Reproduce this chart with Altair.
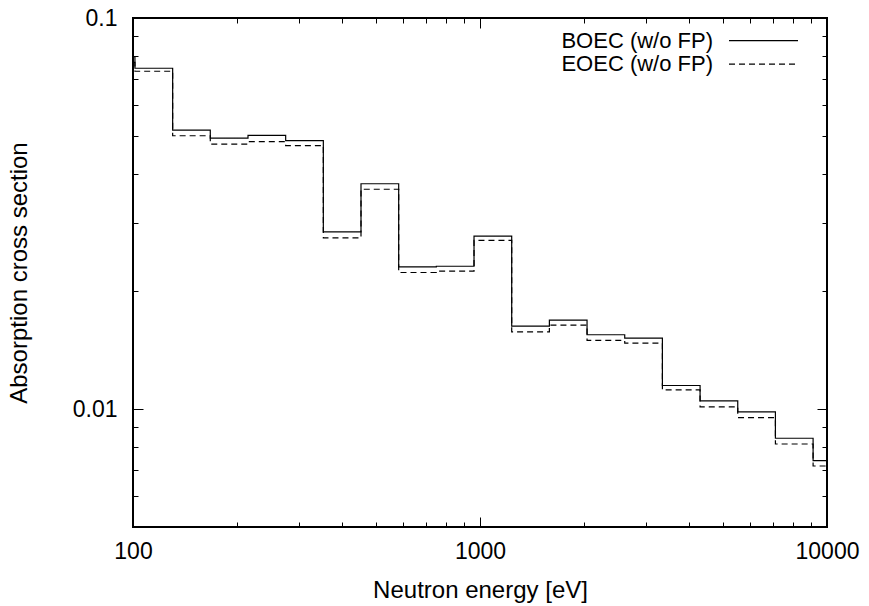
import altair as alt
import pandas as pd

# Group boundaries (eV) visible on the plot, clipped to the 100-10000 eV axis range
edges = [100, 101.3, 130.1, 167.0, 214.5, 275.4, 353.6, 454.0, 583.0, 748.5, 961.1,
         1234.1, 1584.6, 2034.7, 2612.6, 3354.6, 4307.4, 5530.8, 7101.7, 9118.8, 10000]
# Group-wise absorption cross sections (one value per group)
boec = [0.0796, 0.0744, 0.0517, 0.0493, 0.0501, 0.0486, 0.0284, 0.0377, 0.0231, 0.0232,
        0.0277, 0.0163, 0.0169, 0.0155, 0.0152, 0.0115, 0.0105, 0.00984, 0.00843, 0.00739]
eoec = [0.0770, 0.0731, 0.0500, 0.0476, 0.0483, 0.0472, 0.0274, 0.0365, 0.02236, 0.02254,
        0.0270, 0.01577, 0.0164, 0.0150, 0.01475, 0.0112, 0.01014, 0.00952, 0.00815, 0.00716]
series_names = ["BOEC (w/o FP)", "EOEC (w/o FP)"]

x_major = [100, 1000, 10000]
x_minor = [200, 300, 400, 500, 600, 700, 800, 900,
           2000, 3000, 4000, 5000, 6000, 7000, 8000, 9000]
y_major = [0.01, 0.1]
y_minor = [0.006, 0.007, 0.008, 0.009, 0.02, 0.03, 0.04, 0.05, 0.06, 0.07, 0.08, 0.09]

rows = []
for name, vals in zip(series_names, [boec, eoec]):
    for e, v in zip(edges, vals + [vals[-1]]):
        rows.append({"series": name, "energy": e, "xs": v})
df = pd.DataFrame(rows)

W, H = 694, 509
FONT = "Liberation Sans"
LFS = 23   # tick labels
GFS = 22   # legend
TFS = 24   # axis titles
xscale = alt.Scale(type="log", domain=[100, 10000], nice=False)
yscale = alt.Scale(type="log", domain=[0.005, 0.1], nice=False)

common = dict(domain=False, grid=False, tickColor="black", tickWidth=1,
              labelFont=FONT, labelFontSize=LFS, labelColor="black",
              labelFlush=False, labelOverlap=False,
              titleFont=FONT, titleFontSize=TFS, titleFontWeight="normal", titleColor="black")


def carrier(xaxis, yaxis):
    return alt.Chart(df).mark_point(opacity=0).encode(
        x=alt.X("energy:Q", scale=xscale, axis=xaxis),
        y=alt.Y("xs:Q", scale=yscale, axis=yaxis),
    )


ax_bottom_major = alt.Axis(orient="bottom", values=x_major, format="d", tickSize=10, offset=-10,
                           labelPadding=13, title="Neutron energy [eV]",
                           titleBaseline="alphabetic", titleY=80, **common)
ax_bottom_minor = alt.Axis(orient="bottom", values=x_minor, tickSize=5, offset=-5,
                           labels=False, title=None, **common)
ax_top_major = alt.Axis(orient="top", values=x_major, tickSize=10, offset=-10,
                        labels=False, title=None, **common)
ax_top_minor = alt.Axis(orient="top", values=x_minor, tickSize=5, offset=-5,
                        labels=False, title=None, **common)

ax_left_major = alt.Axis(orient="left", values=y_major, format="~g", tickSize=10, offset=-10,
                         labelPadding=16, title="Absorption cross section",
                         titleBaseline="alphabetic", titleX=-117, titleY=H / 2, **common)
ax_left_minor = alt.Axis(orient="left", values=y_minor, tickSize=5, offset=-5,
                         labels=False, title=None, **common)
ax_right_major = alt.Axis(orient="right", values=y_major, tickSize=10, offset=-10,
                          labels=False, title=None, **common)
ax_right_minor = alt.Axis(orient="right", values=y_minor, tickSize=5, offset=-5,
                          labels=False, title=None, **common)

steps = alt.Chart(df).mark_line(interpolate="step-after", color="black", strokeWidth=1.2).encode(
    x=alt.X("energy:Q", scale=xscale, axis=None),
    y=alt.Y("xs:Q", scale=yscale, axis=None),
    strokeDash=alt.StrokeDash("series:N", scale=alt.Scale(domain=series_names, range=[[1, 0], [6, 4]]),
                              legend=None),
    detail="series:N",
)

leg1_text = alt.Chart(pd.DataFrame({"series": [series_names[0]]})).mark_text(
    align="right", baseline="middle", font=FONT, fontSize=GFS, color="black"
).encode(text="series:N", x=alt.value(580), y=alt.value(22.7))
leg2_text = alt.Chart(pd.DataFrame({"series": [series_names[1]]})).mark_text(
    align="right", baseline="middle", font=FONT, fontSize=GFS, color="black"
).encode(text="series:N", x=alt.value(580), y=alt.value(46.2))
leg1_line = alt.Chart(pd.DataFrame({"series": [series_names[0]]})).mark_rule(
    color="black", strokeWidth=1.2
).encode(x=alt.value(596), x2=alt.value(665), y=alt.value(22.7))
leg2_line = alt.Chart(pd.DataFrame({"series": [series_names[1]]})).mark_rule(
    color="black", strokeWidth=1.2, strokeDash=[6, 4]
).encode(x=alt.value(596), x2=alt.value(665), y=alt.value(46.2))

chart = alt.layer(
    carrier(ax_bottom_major, ax_left_major),
    carrier(ax_bottom_minor, ax_left_minor),
    carrier(ax_top_major, ax_right_major),
    carrier(ax_top_minor, ax_right_minor),
    steps,
    leg1_text, leg1_line, leg2_text, leg2_line,
).resolve_axis(
    x="independent", y="independent"
).properties(
    width=W, height=H,
    padding={"left": 133, "top": 18, "right": 42, "bottom": 79},
    autosize=alt.AutoSizeParams(type="none"),
    background="white",
).configure_view(
    stroke="black", strokeWidth=2
)

chart.save("out.html", embed_options={"renderer": "svg", "actions": False})
